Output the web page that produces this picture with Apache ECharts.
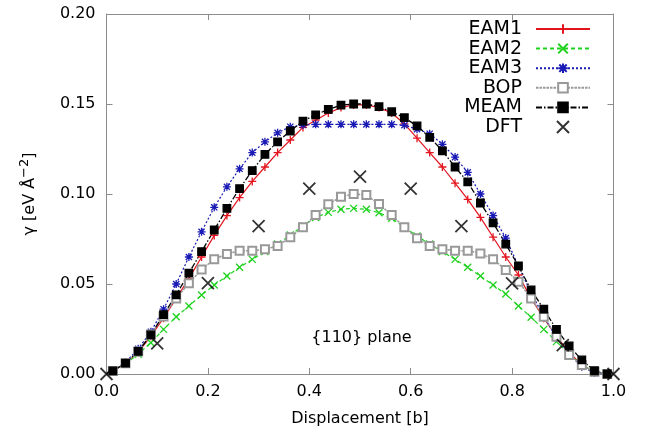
<!DOCTYPE html>
<html><head><meta charset="utf-8">
<script src="https://cdn.jsdelivr.net/npm/echarts@6/dist/echarts.min.js"></script>
<style>html,body{margin:0;padding:0;background:#fff}#c{width:652px;height:439px}</style>
</head><body><div id="c"></div>
<script>
const xs = [0.0125,0.0375,0.0625,0.0875,0.1125,0.1375,0.1625,0.1875,0.2125,0.2375,0.2625,0.2875,0.3125,0.3375,0.3625,0.3875,0.4125,0.4375,0.4625,0.4875,0.5125,0.5375,0.5625,0.5875,0.6125,0.6375,0.6625,0.6875,0.7125,0.7375,0.7625,0.7875,0.8125,0.8375,0.8625,0.8875,0.9125,0.9375,0.9625,0.9875];
const eam1 = [0.0015,0.006,0.012,0.021,0.031,0.042,0.053,0.065,0.077,0.088,0.098,0.107,0.115,0.123,0.130,0.137,0.141,0.145,0.148,0.1495,0.1495,0.148,0.145,0.139,0.131,0.123,0.115,0.106,0.097,0.087,0.076,0.065,0.055,0.042,0.031,0.021,0.012,0.005,0.001,0.0];
const eam2 = [0.0015,0.0055,0.011,0.0174,0.0248,0.0318,0.0378,0.0439,0.0494,0.0544,0.0593,0.0637,0.068,0.0722,0.0772,0.0822,0.0869,0.0898,0.0915,0.092,0.0915,0.0896,0.0865,0.0815,0.0767,0.0722,0.068,0.0637,0.0593,0.0544,0.0494,0.0444,0.0378,0.0315,0.0248,0.018,0.011,0.005,0.0012,0.0];
const eam3 = [0.002,0.0065,0.014,0.0235,0.036,0.050,0.065,0.079,0.0926,0.104,0.114,0.123,0.129,0.134,0.1374,0.1383,0.1387,0.1387,0.1387,0.1387,0.1387,0.1387,0.1387,0.1382,0.136,0.1335,0.1276,0.1205,0.112,0.100,0.088,0.0755,0.060,0.045,0.032,0.020,0.011,0.004,0.0005,0.0];
const bop = [0.0017,0.006,0.0125,0.022,0.032,0.042,0.0504,0.058,0.0637,0.0667,0.0685,0.0685,0.0693,0.0711,0.076,0.0815,0.0883,0.0943,0.0985,0.100,0.0994,0.0944,0.0883,0.0815,0.0754,0.0711,0.0693,0.0685,0.0685,0.067,0.0637,0.0578,0.0513,0.042,0.0318,0.0207,0.0106,0.005,0.0013,0.0];
const meam = [0.0017,0.006,0.0126,0.0217,0.033,0.044,0.056,0.068,0.080,0.092,0.103,0.113,0.122,0.129,0.135,0.1405,0.144,0.147,0.1494,0.150,0.150,0.1485,0.1457,0.1424,0.1378,0.1315,0.124,0.115,0.1067,0.095,0.084,0.0722,0.060,0.0467,0.036,0.0248,0.0156,0.0078,0.0018,0.0];
const dftX = [0.0,0.1,0.2,0.3,0.4,0.5,0.6,0.7,0.8,0.9,1.0];
const dftY = [0.0,0.017,0.0505,0.0822,0.103,0.1096,0.103,0.0822,0.0504,0.016,0.0];
const names = ['EAM1','EAM2','EAM3','BOP','MEAM','DFT'];
const xTicks = ['0.0','0.2','0.4','0.6','0.8','1.0'];
const yTicks = ['0.00','0.05','0.10','0.15','0.20'];

const FONT = 'DejaVu Sans';
const PLUS = 'path://M0,5L10,5M5,0L5,10';
const CROSS = 'path://M0,0L10,10M10,0L0,10';
const STAR = 'path://M0,0L10,10M10,0L0,10M5,-1.5L5,11.5M-1.5,5L11.5,5';

function build(vals){
  const d = [{value:[0,0], symbol:'none'}];
  vals.forEach((v,i)=>d.push([xs[i], v]));
  d.push({value:[1,0], symbol:'none'});
  return d;
}
function lineSeries(name, vals, color, type, sym, size, width, extra){
  return Object.assign({
    name, type:'line', data: build(vals), symbol: sym, symbolSize: size,
    showAllSymbol: true, animation:false,
    lineStyle:{color, width, type},
    itemStyle:{color, borderColor: color, borderWidth: 1.3},
    emphasis:{disabled:true}
  }, extra||{});
}

const chart = echarts.init(document.getElementById('c'), null, {renderer:'canvas'});
const axisCommon = {
  min:0, axisLine:{show:true, onZero:false, lineStyle:{color:'#8c8c8c', width:1}},
  axisTick:{show:true, inside:true, length:6, lineStyle:{color:'#8c8c8c'}},
  splitLine:{show:false}
};
const option = {
  backgroundColor:'#fff',
  animation:false,
  grid:{left:106.5, right:38.5, top:14, bottom:65},
  legend:{
    orient:'vertical', right:56, top:14.5, align:'right',
    itemWidth:54, itemHeight:12, itemGap:0.6,
    textStyle:{fontFamily:FONT, fontSize:19, color:'#000', padding:[0,9,0,0]},
    data: names.map(n=>({name:n})),
    selectedMode:false
  },
  xAxis:[
    Object.assign({}, axisCommon, {type:'value', max:1, interval:0.2, position:'bottom',
      axisLabel:{fontFamily:FONT, fontSize:16, color:'#000', margin:10,
        formatter:(v)=>xTicks[Math.round(v/0.2)]},
      name:'Displacement [b]', nameLocation:'middle', nameGap:37,
      nameTextStyle:{fontFamily:FONT, fontSize:16, color:'#000'}}),
    Object.assign({}, axisCommon, {type:'value', max:1, interval:0.2, position:'top',
      axisLabel:{show:false}})
  ],
  yAxis:[
    Object.assign({}, axisCommon, {type:'value', max:0.2, interval:0.05, position:'left',
      axisLabel:{fontFamily:FONT, fontSize:16, color:'#000', margin:11,
        formatter:(v)=>yTicks[Math.round(v/0.05)]},
      name:'{a|γ [eV Å}{s|−2}{a|]}', nameLocation:'middle', nameGap:66, nameRotate:90,
      nameTextStyle:{rich:{
        a:{fontFamily:FONT, fontSize:16, color:'#000'},
        s:{fontFamily:FONT, fontSize:13, color:'#000', padding:[0,0,9,0]}
      }}}),
    Object.assign({}, axisCommon, {type:'value', max:0.2, interval:0.05, position:'right',
      axisLabel:{show:false}})
  ],
  series:[
    lineSeries('EAM1', eam1, '#e3141e', 'solid', PLUS, 8, 1.2),
    lineSeries('EAM2', eam2, '#1ed21e', [4,3], CROSS, 7, 1.2),
    lineSeries('EAM3', eam3, '#1a1ab4', [2,2], STAR, 8, 1.2),
    lineSeries('BOP', bop, '#999999', [2.5,1], 'emptyRect', 8, 1.5,
      {itemStyle:{color:'#999999', borderColor:'#999999', borderWidth:1.6}}),
    lineSeries('MEAM', meam, '#000', [6,2,1.5,2], 'rect', 7.5, 1.3),
    {name:'DFT', type:'scatter', data: dftX.map((x,i)=>[x, dftY[i]]),
      symbol: CROSS, symbolSize: 12, animation:false,
      itemStyle:{color:'#000', borderColor:'#000', borderWidth:1.8}, z:5,
      emphasis:{disabled:true}}
  ]
};
chart.setOption(option);
const p = chart.convertToPixel({xAxisIndex:0, yAxisIndex:0}, [0.503, 0.02]);
chart.setOption({graphic:[{type:'text', x:p[0], y:p[1], style:{text:'{110} plane', fontFamily:FONT, fontSize:16, fill:'#000', align:'center', verticalAlign:'middle'}}]});
</script></body></html>
